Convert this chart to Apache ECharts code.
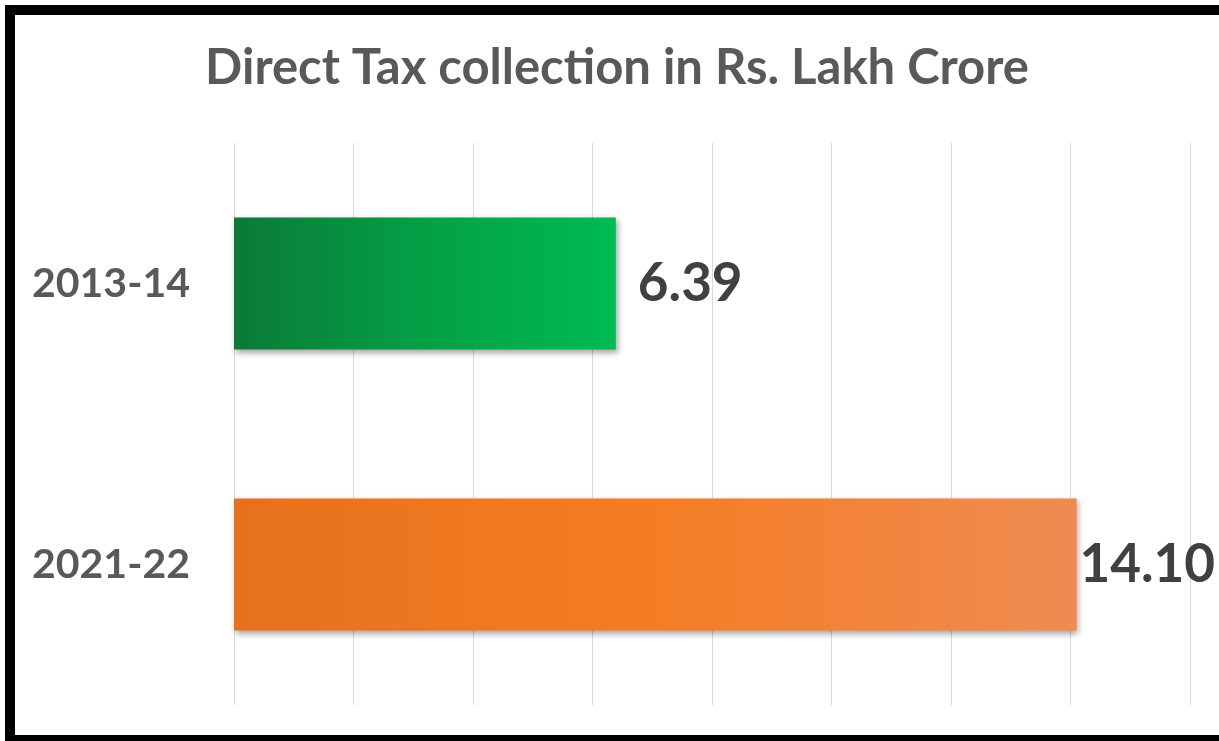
<!DOCTYPE html>
<html>
<head>
<meta charset="utf-8">
<script src="https://cdn.jsdelivr.net/npm/echarts@6/dist/echarts.min.js"></script>
<style>
  html, body { margin: 0; padding: 0; background: #fff; overflow: hidden; }
  #frame {
    position: absolute; left: 5px; top: 5px;
    width: 1204px; height: 720px;
    border-left: 10px solid #000; border-top: 10px solid #000; border-bottom: 6px solid #000;
    background: #fff;
  }
  #chart { width: 1204px; height: 720px; }
</style>
</head>
<body>
<div id="frame"><div id="chart"></div></div>
<script>
(function() {
  'use strict';

  var years = ['2013-14', '2021-22'];
  var collection = [6.39, 14.10];

  var colorTitle = '#595959';
  var colorLabel = '#404040';
  var colorGrid = '#d9d9d9';

  var barColors = [
    new echarts.graphic.LinearGradient(0, 0, 1, 0, [
      { offset: 0, color: '#0b7a37' },
      { offset: 0.5, color: '#03a046' },
      { offset: 1, color: '#00bb52' }
    ]),
    new echarts.graphic.LinearGradient(0, 0, 1, 0, [
      { offset: 0, color: '#e7701c' },
      { offset: 0.5, color: '#f47d24' },
      { offset: 1, color: '#ef8b52' }
    ])
  ];

  var chart = echarts.init(document.getElementById('chart'));
  chart.setOption({
    animation: false,
    title: {
      text: 'Direct Tax collection in Rs. Lakh Crore',
      left: 'center',
      top: 24,
      textStyle: { fontFamily: 'Lato', fontWeight: 'bold', fontSize: 49, color: colorTitle }
    },
    grid: { left: 219, right: 29, top: 128, bottom: 30 },
    xAxis: {
      type: 'value',
      min: 0,
      max: 16,
      interval: 2,
      axisLine: { show: false },
      axisTick: { show: false },
      axisLabel: { show: false },
      splitLine: { lineStyle: { color: colorGrid, width: 1 } }
    },
    yAxis: {
      type: 'category',
      inverse: true,
      data: years,
      axisLine: { show: false },
      axisTick: { show: false },
      axisLabel: {
        margin: 44,
        fontFamily: 'Lato', fontWeight: 'bold', fontSize: 41, color: colorTitle
      }
    },
    series: [{
      type: 'bar',
      barWidth: '47%',
      data: collection.map(function(v, i) {
        return {
          value: v,
          itemStyle: { color: barColors[i] },
          label: { distance: i === 0 ? 22 : 3 }
        };
      }),
      itemStyle: {
        shadowBlur: 6, shadowOffsetX: 2, shadowOffsetY: 3, shadowColor: 'rgba(0,0,0,0.35)'
      },
      label: {
        show: true,
        position: 'right',
        formatter: function(p) { return p.value.toFixed(2); },
        fontFamily: 'Lato', fontWeight: 'bold', fontSize: 53, color: colorLabel
      }
    }]
  });
})();
</script>
</body>
</html>
